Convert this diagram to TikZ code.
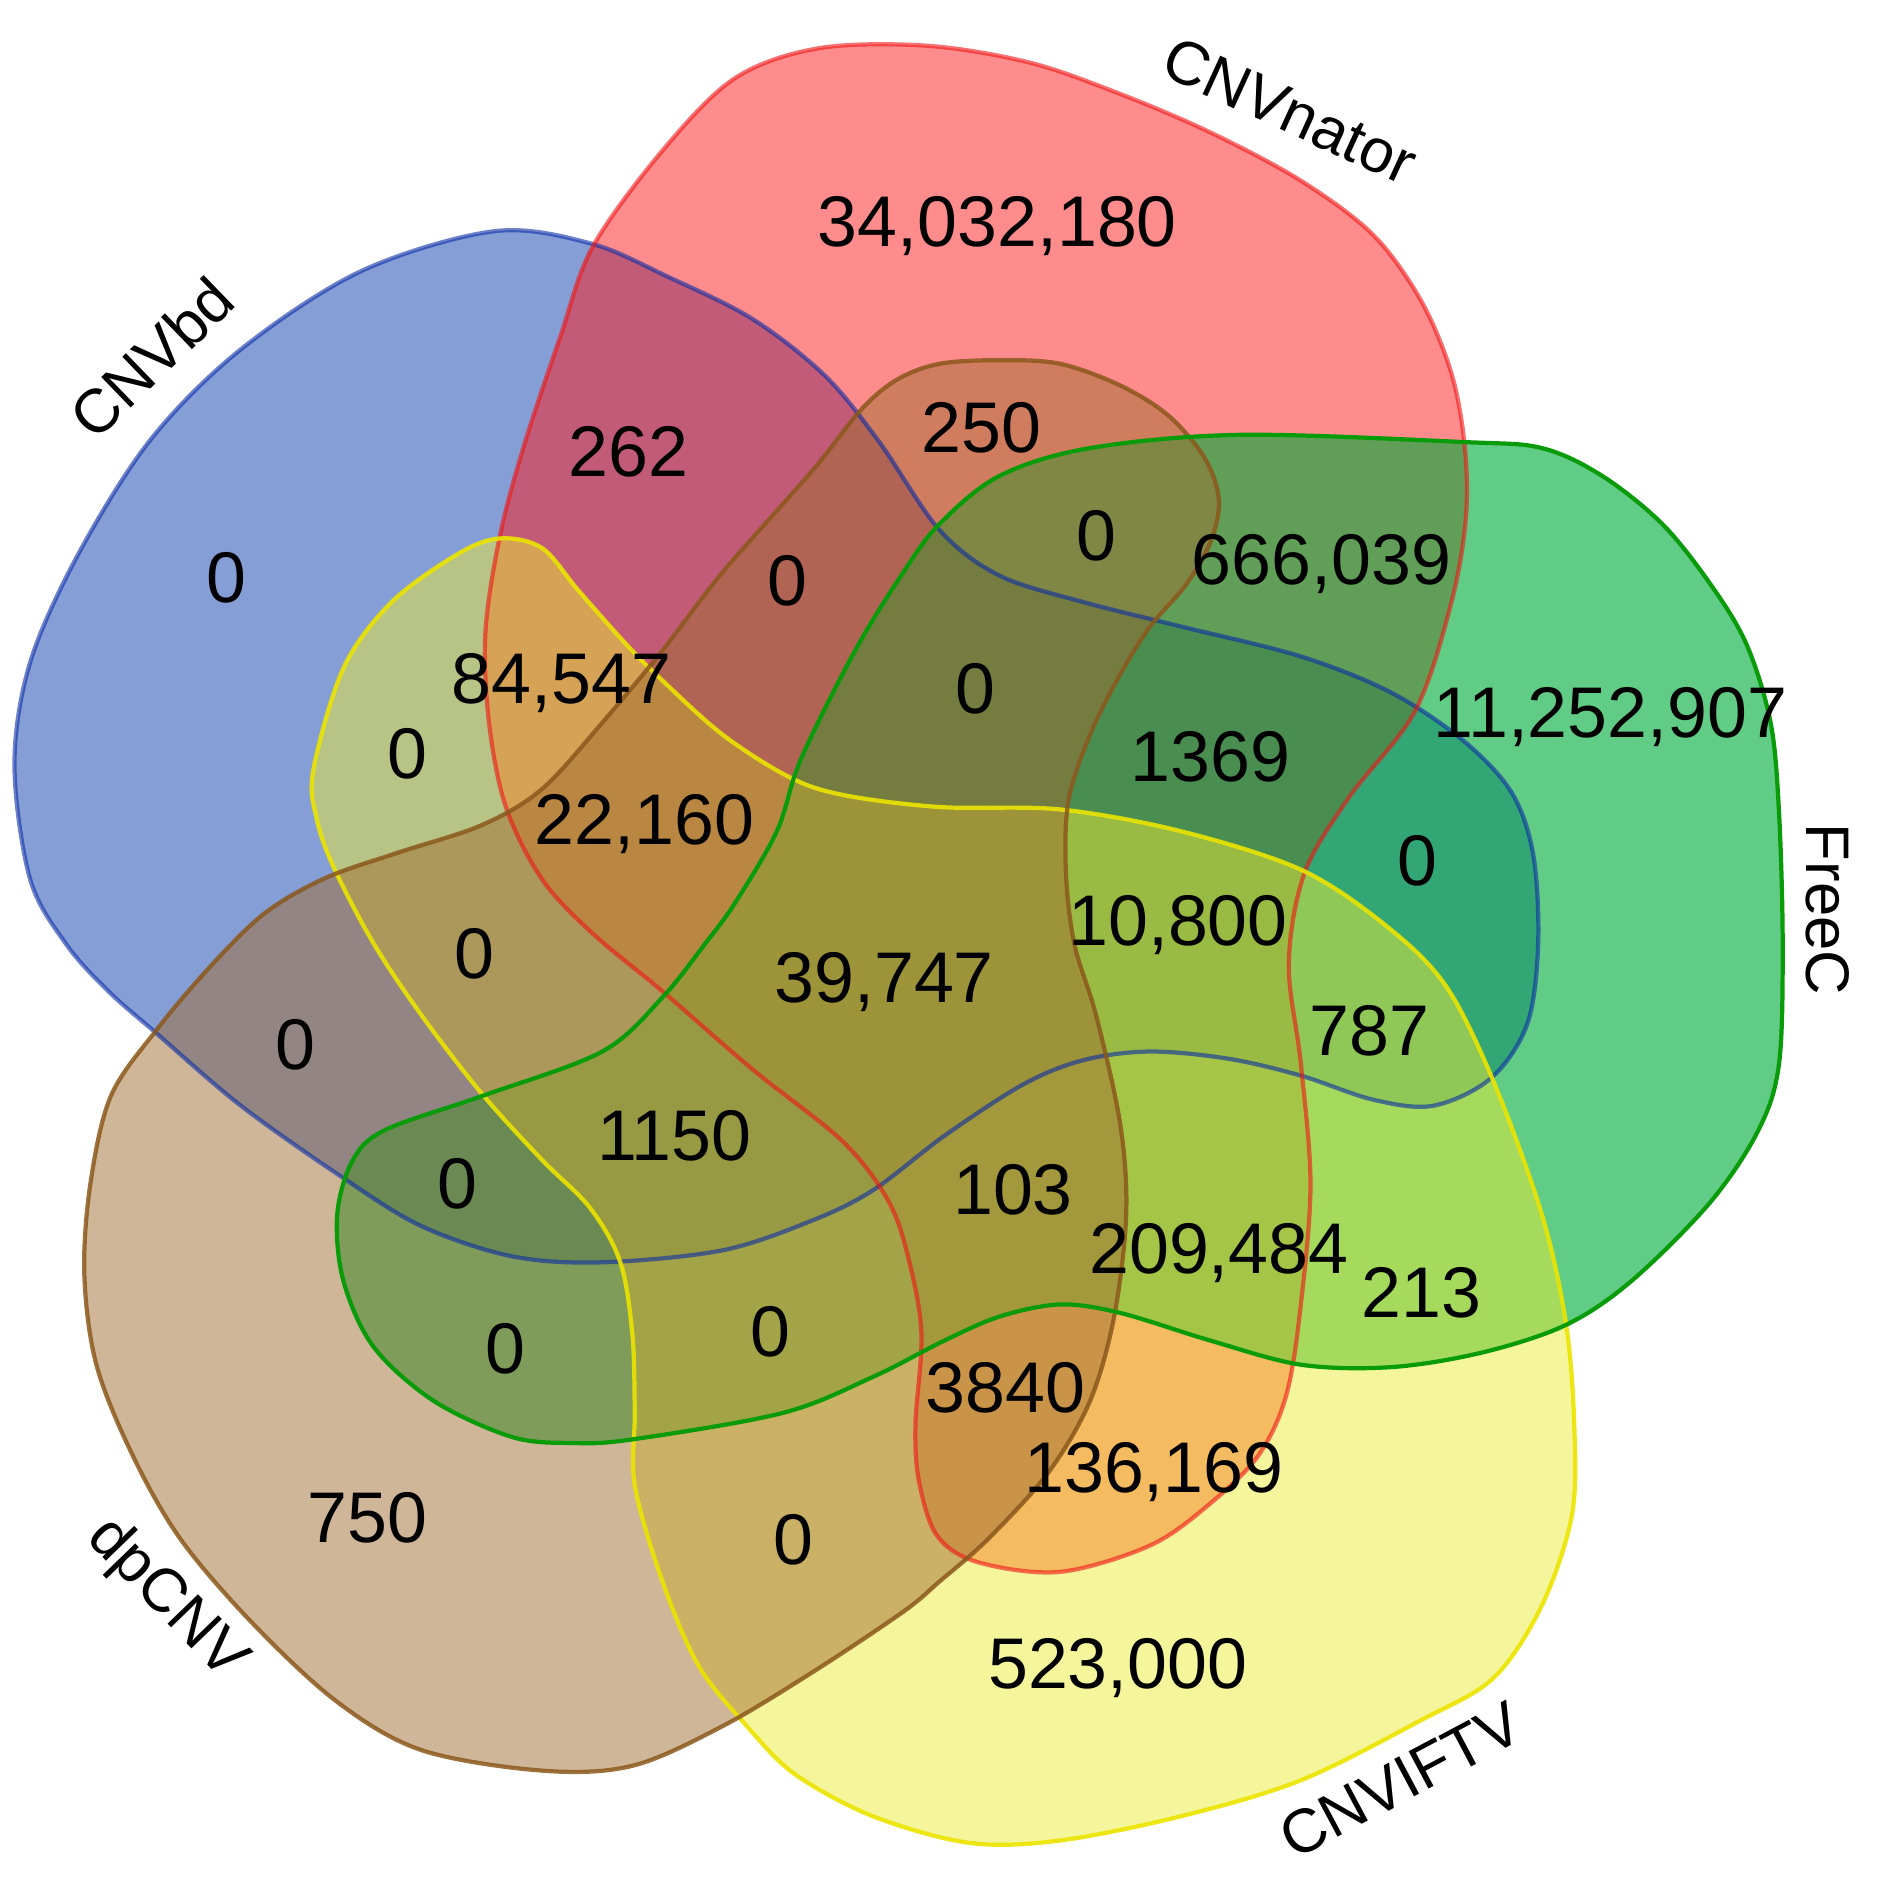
\documentclass[tikz,border=0pt]{standalone}
\usepackage{fontspec}
\setmainfont{Liberation Sans}
\definecolor{bluef}{RGB}{13,61,173}
\definecolor{redf}{RGB}{255,25,25}
\definecolor{greenf}{RGB}{0,172,58}
\definecolor{yellowf}{RGB}{235,235,55}
\definecolor{brownf}{RGB}{161,109,49}
\definecolor{blues}{RGB}{10,45,165}
\definecolor{reds}{RGB}{240,20,20}
\definecolor{greens}{RGB}{10,155,10}
\definecolor{yellows}{RGB}{235,228,0}
\definecolor{browns}{RGB}{139,88,28}
\begin{document}
\begin{tikzpicture}[x=0.012045cm,y=-0.012045cm,
  num/.style={font=\fontsize{20.4}{24}\selectfont,inner sep=0pt},
  lab/.style={font=\fontsize{17.5}{21}\selectfont,inner sep=0pt},
  edge/.style={line width=1.2pt}]
\useasboundingbox (0,0) rectangle (1560,1565.8);
\def\blueshape{plot[smooth cycle,tension=0.55] coordinates {(410,192) (490,202) (555,230) (625,265) (685,312) (730,367) (780,440) (830,478) (900,500) (980,520) (1080,545) (1155,575) (1215,615) (1255,658) (1273,710) (1277,784) (1268,850) (1238,895) (1190,918) (1140,913) (1080,893) (1020,879) (955,873) (900,880) (850,900) (784,943) (725,988) (675,1013) (600,1038) (500,1048) (425,1043) (350,1018) (285,978) (200,918) (130,858) (90,823) (55,784) (25,730) (12,635) (25,550) (65,460) (125,365) (200,290) (300,225)}}
\def\redshape{plot[smooth cycle,tension=0.55] coordinates {(492,205) (550,125) (610,65) (680,40) (770,38) (855,52) (930,78) (1005,110) (1080,150) (1140,195) (1180,250) (1205,310) (1216,370) (1217,430) (1205,500) (1175,590) (1120,662) (1083,725) (1070,800) (1080,883) (1088,983) (1080,1083) (1068,1158) (1045,1208) (1005,1248) (955,1283) (880,1305) (812,1297) (778,1275) (763,1230) (760,1183) (765,1108) (755,1048) (738,998) (700,948) (625,888) (550,823) (492,775) (450,730) (420,670) (406,600) (403,525) (415,445) (435,370) (465,280)}}
\def\greenshape{plot[smooth cycle,tension=0.55] coordinates {(780,435) (750,475) (710,540) (665,630) (645,690) (610,750) (585,784) (550,828) (500,873) (400,910) (320,938) (293,963) (280,1008) (285,1063) (310,1118) (360,1163) (425,1193) (475,1198) (525,1195) (650,1173) (725,1143) (784,1113) (830,1093) (880,1083) (930,1090) (1005,1113) (1080,1133) (1155,1135) (1230,1123) (1300,1100) (1355,1063) (1420,998) (1460,938) (1477,883) (1480,784) (1477,675) (1470,600) (1450,535) (1420,485) (1380,435) (1330,395) (1280,372) (1215,367) (1030,361) (905,372) (830,395)}}
\def\yellowshape{plot[smooth cycle,tension=0.55] coordinates {(415,447) (450,455) (480,490) (520,535) (550,565) (600,610) (655,645) (700,660) (780,670) (880,672) (980,690) (1080,722) (1150,768) (1200,818) (1240,898) (1280,1008) (1300,1098) (1307,1183) (1305,1258) (1280,1333) (1240,1393) (1180,1428) (1080,1478) (980,1508) (880,1528) (805,1530) (725,1508) (660,1473) (620,1433) (580,1383) (550,1313) (527,1233) (527,1173) (525,1108) (515,1048) (490,1003) (450,963) (400,908) (350,843) (310,783) (277,720) (263,680) (260,640) (285,555) (325,500) (380,460)}}
\def\brownshape{plot[smooth cycle,tension=0.55] coordinates {(780,302) (830,299) (880,302) (930,320) (970,345) (1000,380) (1012,415) (1005,450) (985,485) (955,520) (930,560) (905,610) (887,665) (885,725) (892,784) (910,843) (930,933) (935,1008) (925,1093) (905,1163) (870,1223) (820,1278) (780,1313) (750,1338) (675,1388) (600,1433) (525,1466) (450,1470) (350,1453) (280,1413) (210,1348) (150,1278) (110,1208) (80,1133) (70,1058) (75,983) (92,910) (130,855) (175,802) (220,758) (270,729) (330,708) (400,685) (450,655) (500,600) (550,540) (600,475) (675,390) (715,340) (745,315)}}
% fills
\fill[bluef,fill opacity=0.5] \blueshape;
\fill[redf,fill opacity=0.5] \redshape;
\fill[greenf,fill opacity=0.62] \greenshape;
\fill[yellowf,fill opacity=0.5] \yellowshape;
\fill[brownf,fill opacity=0.5] \brownshape;
% outlines
\draw[edge,blues,draw opacity=0.6] \blueshape;
\draw[edge,reds,draw opacity=0.6] \redshape;
\draw[edge,yellows,draw opacity=0.9] \yellowshape;
\draw[edge,browns,draw opacity=0.85] \brownshape;
\draw[edge,greens] \greenshape;
% set labels
\node[lab,rotate=44] (lbd) at (126,297) {CNVbd};
\node[lab,rotate=-24.6] (lnat) at (1071,92) {CNVnator};
\node[lab,rotate=-90] (lfree) at (1517,755) {FreeC};
\node[lab,rotate=28] (lift) at (1163,1478) {CNVIFTV};
\node[lab,rotate=-46] (ldp) at (138,1328) {dpCNV};
% counts
\node[num] (n1) at (828,188) {34,032,180};
\node[num] (n2) at (522,375) {262};
\node[num] (n3) at (815,355) {250};
\node[num] (n4) at (188,480) {0};
\node[num] (n5) at (654,482) {0};
\node[num] (n6) at (910,445) {0};
\node[num] (n7) at (1097,468) {666,039};
\node[num] (n8) at (466,567) {84,547};
\node[num] (n9) at (810,572) {0};
\node[num] (n10) at (1337,595) {11,252,907};
\node[num] (n11) at (338,626) {0};
\node[num] (n12) at (1005,628) {1369};
\node[num] (n13) at (535,684) {22,160};
\node[num] (n14) at (1177,715) {0};
\node[num] (n15) at (978,768) {10,800};
\node[num] (n16) at (394,792) {0};
\node[num] (n17) at (734,815) {39,747};
\node[num] (n18) at (1137,856) {787};
\node[num] (n19) at (245,867) {0};
\node[num] (n20) at (560,943) {1150};
\node[num] (n21) at (380,983) {0};
\node[num] (n22) at (841,988) {103};
\node[num] (n23) at (1012,1040) {209,484};
\node[num] (n24) at (1180,1073) {213};
\node[num] (n25) at (420,1120) {0};
\node[num] (n26) at (640,1106) {0};
\node[num] (n27) at (835,1152) {3840};
\node[num] (n28) at (958,1222) {136,169};
\node[num] (n29) at (305,1260) {750};
\node[num] (n30) at (659,1278) {0};
\node[num] (n31) at (928,1385) {523,000};
\end{tikzpicture}
\end{document}
